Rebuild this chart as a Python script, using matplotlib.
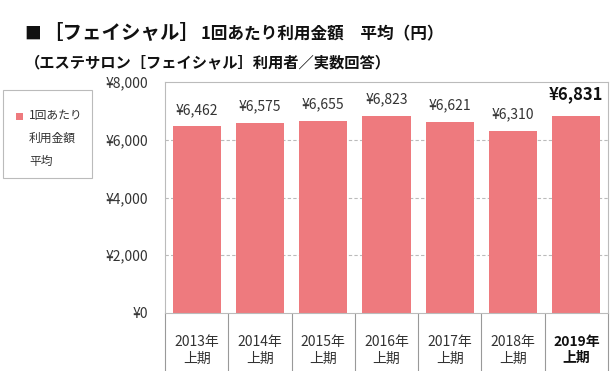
import matplotlib
matplotlib.use("Agg")
import matplotlib.pyplot as plt
from matplotlib.patches import Rectangle

plt.rcParams['font.family'] = ['Noto Sans CJK JP', 'DejaVu Sans']

categories = ["2013年\n上期", "2014年\n上期", "2015年\n上期", "2016年\n上期",
              "2017年\n上期", "2018年\n上期", "2019年\n上期"]
values = [6462, 6575, 6655, 6823, 6621, 6310, 6831]
value_labels = ["¥6,462", "¥6,575", "¥6,655", "¥6,823", "¥6,621", "¥6,310", "¥6,831"]
yticks = [0, 2000, 4000, 6000, 8000]
ytick_labels = ["¥0", "¥2,000", "¥4,000", "¥6,000", "¥8,000"]
legend_label = "1回あたり\n利用金額\n平均"
title1_mark = "■"
title1a = "［フェイシャル］"
title1b = "1回あたり利用金額　平均（円）"
title2 = "（エステサロン［フェイシャル］利用者／実数回答）"

bar_color = "#EE7A7E"
W, H = 613, 371
fig = plt.figure(figsize=(W/100, H/100), dpi=100)
ax = fig.add_axes([165/W, 1-313/H, (608-165)/W, (313-82)/H])

x = list(range(len(values)))
ax.bar(x, values, width=0.76, color=bar_color, zorder=2)
ax.set_xlim(-0.5, len(values)-0.5)
ax.set_ylim(0, 8000)
ax.set_yticks(yticks)
ax.set_yticklabels(ytick_labels, fontsize=10, color="#333333")
ax.tick_params(axis='y', length=0, pad=12)
for gy in yticks[1:-1]:
    ax.axhline(gy, color="#BBBBBB", lw=0.8, ls=(0, (3, 2)), zorder=1)
for s in ax.spines.values():
    s.set_color("#BBBBBB")
    s.set_linewidth(0.8)

ax.set_xticks(x)
ax.set_xticklabels(categories, fontsize=10, color="#333333", linespacing=1.2)
ax.tick_params(axis='x', which='major', length=0, pad=16)
ax.get_xticklabels()[-1].set_fontweight('bold')
ax.get_xticklabels()[-1].set_color('#111111')
ax.set_xticks([i - 0.5 for i in range(len(values)+1)], minor=True)
ax.tick_params(axis='x', which='minor', length=43, color="#999999", width=0.8, direction='out')

for i, (v, lab) in enumerate(zip(values, value_labels)):
    last = i == len(values)-1
    ax.text(i, v + (420 if last else 330), lab, ha='center', va='bottom',
            fontsize=12 if last else 10, fontweight='bold' if last else 'normal',
            color="#111111" if last else "#333333")

# Legend box
fig.patches.append(Rectangle((3/W, 1-178/H), 89/W, 88/H, transform=fig.transFigure,
                             fill=False, edgecolor="#BBBBBB", lw=0.8))
fig.patches.append(Rectangle((16/W, 1-120/H), 7/W, 7/H, transform=fig.transFigure,
                             facecolor=bar_color, edgecolor='none'))
fig.text(29/W, 1-109/H, legend_label, ha='left', va='top', fontsize=8.5,
         color="#333333", linespacing=2.0)

# Titles
fig.text(24/W, 1-34/H, title1_mark, ha='left', va='center', fontsize=12, fontweight='bold', color="#111111")
fig.text(43/W, 1-33/H, title1a, ha='left', va='center', fontsize=14, fontweight='bold', color="#111111")
fig.text(201/W, 1-34/H, title1b, ha='left', va='center', fontsize=12, fontweight='bold', color="#111111")
fig.text(25/W, 1-62/H, title2, ha='left', va='center', fontsize=11, fontweight='bold', color="#111111")

fig.savefig("out.png", dpi=100)
